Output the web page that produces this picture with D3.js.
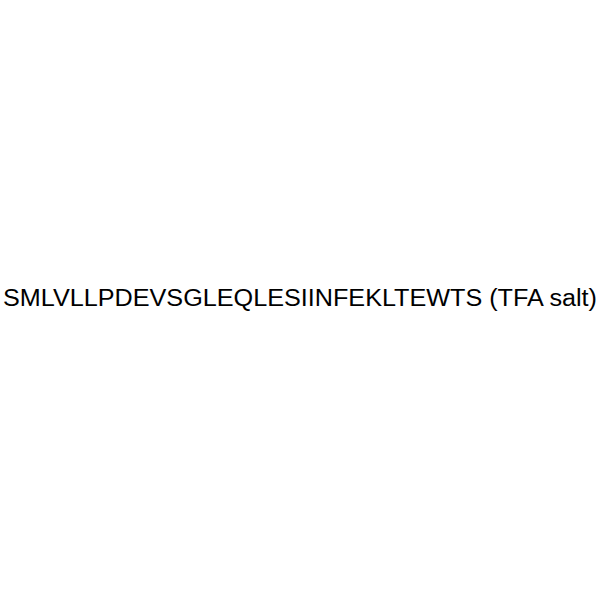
<!DOCTYPE html>
<html>
<head>
<meta charset="utf-8">
<script src="https://cdn.jsdelivr.net/npm/d3@7"></script>
<style>
  body { margin: 0; background: #fff; }
</style>
</head>
<body>
<script>
var labels = ["SMLVLLPDEVSGLEQLESIINFEKLTEWTS (TFA salt)"];

var WIDTH = 600;
var HEIGHT = 600;

var svg = d3.select('body').append('svg')
  .attr('width', WIDTH)
  .attr('height', HEIGHT);

svg.append('rect')
  .attr('width', WIDTH)
  .attr('height', HEIGHT)
  .attr('fill', '#fff');

// text fills nearly the whole width in the reference
svg.selectAll('text.name')
  .data(labels)
  .enter()
  .append('text')
  .attr('class', 'name')
  .attr('x', 3)
  .attr('y', 305.5)
  .attr('text-anchor', 'start')
  .attr('font-family', 'Arial, "Liberation Sans", sans-serif')
  .attr('font-size', 23.5)
  .attr('textLength', 594)
  .attr('lengthAdjust', 'spacingAndGlyphs')
  .attr('fill', '#000')
  .text(function (d) { return d; });
</script>
</body>
</html>
